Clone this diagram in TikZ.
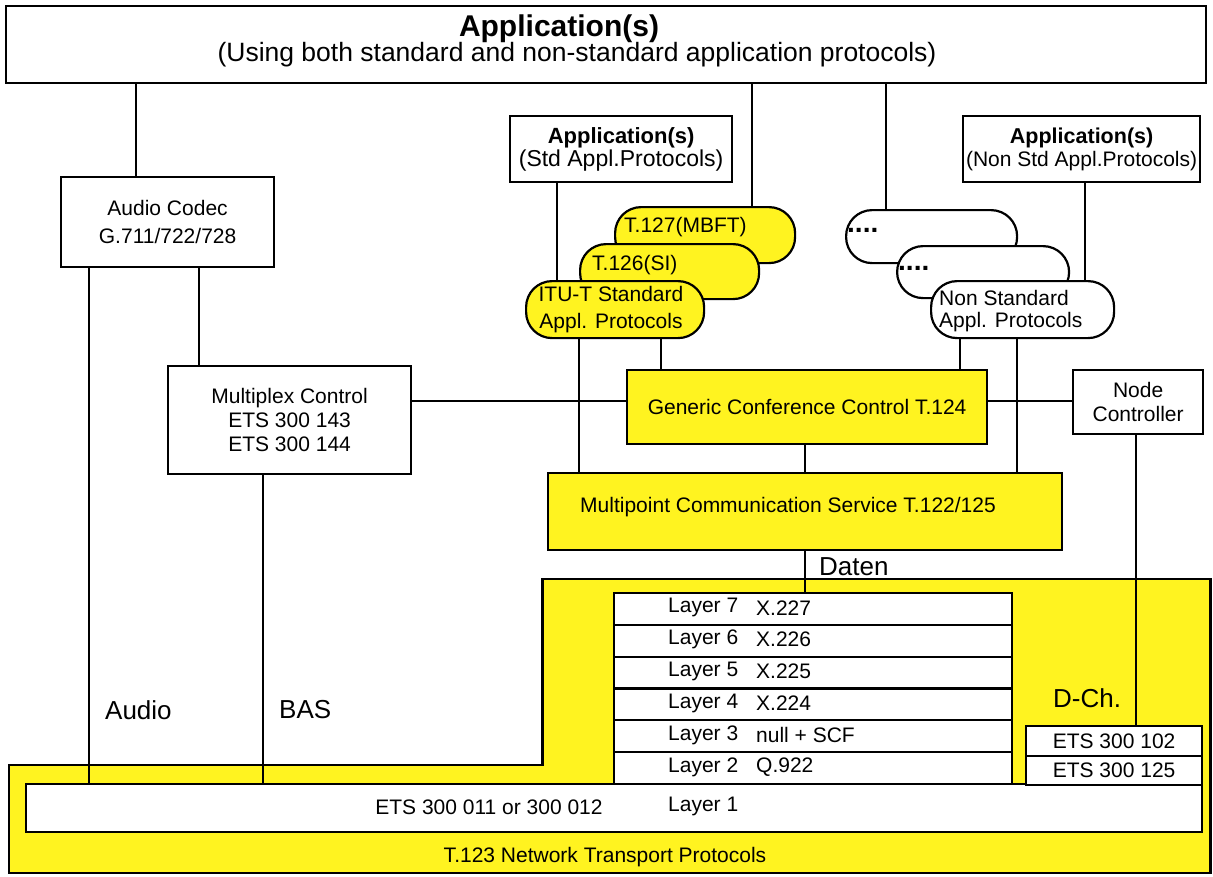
\documentclass[tikz,border=0pt]{standalone}
\usepackage{fontspec}
\setmainfont{Liberation Sans}
\definecolor{tyellow}{RGB}{255,243,32}

\begin{document}
\begin{tikzpicture}[x=1pt, y=-1pt,
    box/.style={draw, line width=2.2pt, fill=white, anchor=north west,
      inner sep=0pt, align=center, font=\fontsize{21}{24}\selectfont},
    ybox/.style={box, fill=tyellow},
    pbox/.style={box, fill=tyellow, rounded corners=26pt},
    txt/.style={inner sep=0pt, font=\fontsize{21}{24}\selectfont},
    bigtxt/.style={inner sep=0pt, font=\fontsize{26}{30}\selectfont},
    wire/.style={line width=1.8pt}]
    \useasboundingbox (0,0) rectangle (1213,876);
    % T.123 area
    \draw[fill=tyellow, line width=2.2pt]
    (9,765) -- (542.5,765) -- (542.5,579) -- (1210.5,579) -- (1210.5,873) -- (9,873) -- cycle;
    \node[txt] (t123) at (605,857) {T.123 Network Transport Protocols};
    % Top application box
    \node[box, minimum width=1200, minimum height=77] (apps) at (5,5) {};
    \node[inner sep=0pt, anchor=base, font=\fontsize{30}{32}\selectfont\bfseries]
      (apptitle) at (559,36) {Application(s)};
    \node[inner sep=0pt, anchor=base, font=\fontsize{26.5}{30}\selectfont]
      (appsub) at (577,61) {(Using both standard and non-standard application protocols)};
    \node[box, minimum width=222, minimum height=66, font=\fontsize{22}{23}\selectfont]
      (stdapp) at (509,115) {\textbf{Application(s)}\\{\fontsize{23}{23}\selectfont(Std Appl.Protocols)}};
    \node[box, minimum width=237, minimum height=66, font=\fontsize{21.5}{23}\selectfont]
      (nstdapp) at (962,115) {\textbf{Application(s)}\\{\fontsize{21}{23}\selectfont(Non Std Appl.Protocols)}};
    % Audio side
    \node[box, minimum width=213, minimum height=90, font=\fontsize{21}{28}\selectfont]
      (codec) at (60,176) {Audio Codec\\G.711/722/728};
    \node[box, minimum width=243, minimum height=108] (mux) at (167,365)
      {Multiplex Control\\ETS 300 143\\ETS 300 144};
    % Standard protocols (stacked)
    \node[pbox, minimum width=180, minimum height=56] (t127) at (614,206) {};
    \node[txt, anchor=west] (t127txt) at (624,227) {T.127(MBFT)};
    \node[pbox, minimum width=179, minimum height=55] (t126) at (579,243) {};
    \node[txt, anchor=west] (t126txt) at (592,265) {T.126(SI)};
    \node[pbox, minimum width=178, minimum height=57] (itu) at (525,280) {};
    \node[txt, align=center, font=\fontsize{21}{27}\selectfont] (itutxt) at (611,310)
      {ITU-T Standard\\Appl. Protocols};
    % Non standard protocols (stacked)
    \node[pbox, fill=white, minimum width=171, minimum height=53] (dots1) at (845,209) {};
    \node[inner sep=0pt, anchor=base west, font=\fontsize{28}{30}\selectfont\bfseries]
      (dots1txt) at (847,232) {....};
    \node[pbox, fill=white, minimum width=172, minimum height=52] (dots2) at (896,245) {};
    \node[inner sep=0pt, anchor=base west, font=\fontsize{28}{30}\selectfont\bfseries]
      (dots2txt) at (898,270) {....};
    \node[pbox, fill=white, minimum width=183, minimum height=57] (nstd) at (930,280) {};
    \node[txt, anchor=west, align=left, font=\fontsize{21}{22}\selectfont] (nstdtxt) at (939,311)
      {Non Standard\\Appl. Protocols};
    % Control and MCS
    \node[ybox, minimum width=360, minimum height=74] (gcc) at (626,369)
      {Generic Conference Control T.124};
    \node[box, minimum width=130, minimum height=64] (nodectl) at (1072,369)
      {Node\\Controller};
    \node[ybox, minimum width=514, minimum height=77] (mcs) at (547,472) {};
    \node[txt] (mcstxt) at (788,507) {Multipoint Communication Service T.122/125};
    % Layers 7..2
    \foreach \n/\p [count=\i] in {7/X.227, 6/X.226, 5/X.225, 4/X.224, 3/null + SCF, 2/Q.922}{
      \node[box, minimum width=398, minimum height=31.8] (layer\n) at (612.5,{592+(\i-1)*31.8}) {};
      \node[txt, anchor=west] (lname\n) at (668,{607.9+(\i-1)*31.8}) {Layer \n};
      \node[txt, anchor=west] (lprot\n) at (756,{607.9+(\i-1)*31.8}) {\p};
    }
    % Layer 1
    \node[box, minimum width=1176.5, minimum height=48] (layer1) at (24.5,783) {};
    \node[txt] (etsphy) at (489,807) {ETS 300 011 or 300 012};
    \node[txt, anchor=west] (lname1) at (668,806) {Layer 1};
    % D channel
    \node[box, minimum width=176, minimum height=30] (ets102) at (1025,725) {ETS 300 102};
    \node[box, minimum width=176, minimum height=29] (ets125) at (1025,755) {ETS 300 125};
    % Connectors
    \draw[wire] (apps.south -| 136,0) -- (codec.north -| 136,0);
    \draw[wire] (apps.south -| 752,0) -- (t127.north -| 752,0);
    \draw[wire] (apps.south -| 886,0) -- (dots1.north -| 886,0);
    \draw[wire] (stdapp.south -| 557,0) -- (itu.north -| 557,0);
    \draw[wire] (nstdapp.south -| 1085,0) -- (nstd.north -| 1085,0);
    \draw[wire] (codec.south -| 89,0) -- (layer1.north -| 89,0);
    \draw[wire] (codec.south -| 199,0) -- (mux.north -| 199,0);
    \draw[wire] (mux.south -| 263,0) -- (layer1.north -| 263,0);
    \draw[wire] (mux.east |- 0,401) -- (gcc.west |- 0,401);
    \draw[wire] (gcc.east |- 0,401) -- (nodectl.west |- 0,401);
    \draw[wire] (itu.south -| 579,0) -- (mcs.north -| 579,0);
    \draw[wire] (itu.south -| 661,0) -- (gcc.north -| 661,0);
    \draw[wire] (nstd.south -| 960,0) -- (gcc.north -| 960,0);
    \draw[wire] (nstd.south -| 1017,0) -- (mcs.north -| 1017,0);
    \draw[wire] (gcc.south -| 805,0) -- (mcs.north -| 805,0);
    \draw[wire] (mcs.south -| 805,0) -- (layer7.north -| 805,0);
    \draw[wire] (nodectl.south -| 1136,0) -- (ets102.north -| 1136,0);
    % Channel labels
    \node[bigtxt, anchor=west] (daten) at (819,567) {Daten};
    \node[bigtxt, anchor=west] (dch) at (1053,698) {D-Ch.};
    \node[bigtxt, anchor=west] (audio) at (105,710) {Audio};
    \node[bigtxt, anchor=west] (bas) at (279,710) {BAS};
\end{tikzpicture}
\end{document}
